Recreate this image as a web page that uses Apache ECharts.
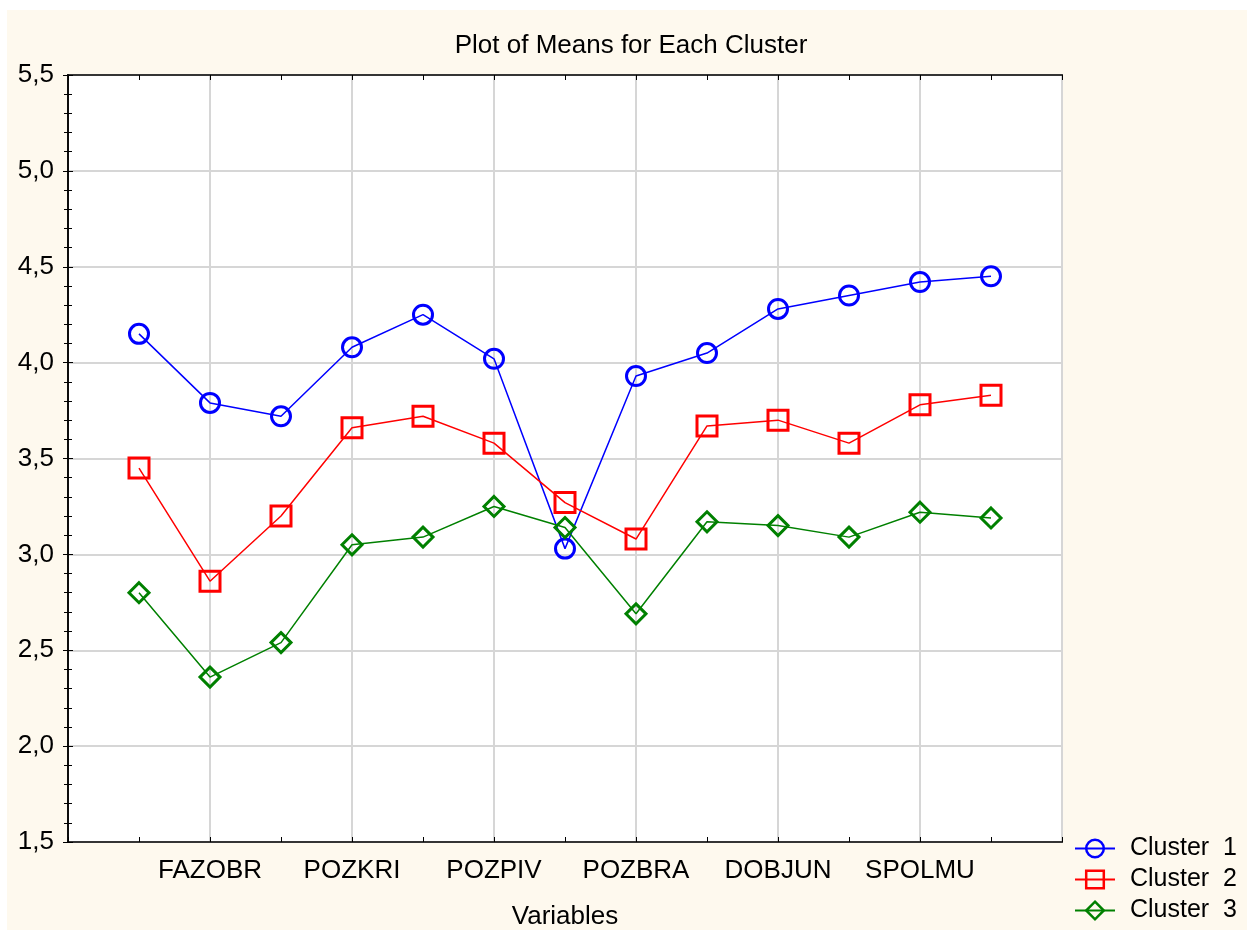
<!DOCTYPE html>
<html>
<head>
<meta charset="utf-8">
<script src="https://cdn.jsdelivr.net/npm/echarts@6/dist/echarts.min.js"></script>
<style>
  body { margin: 0; background: #fff; }
  #chart { position: absolute; left: 7px; top: 10px; width: 1240px; height: 920px; }
</style>
</head>
<body>
<div id="chart"></div>
<script>
// variables along the x axis (only every other one is labelled in the original)
const categories = ['V1', 'FAZOBR', 'V3', 'POZKRI', 'V5', 'POZPIV', 'V7', 'POZBRA', 'V9', 'DOBJUN', 'V11', 'SPOLMU', 'V13']
const shownLabels = ['FAZOBR', 'POZKRI', 'POZPIV', 'POZBRA', 'DOBJUN', 'SPOLMU']
const cluster1 = [4.15, 3.79, 3.72, 4.08, 4.25, 4.02, 3.03, 3.93, 4.05, 4.28, 4.35, 4.42, 4.45]
const cluster2 = [3.45, 2.86, 3.20, 3.66, 3.72, 3.58, 3.27, 3.08, 3.67, 3.70, 3.58, 3.78, 3.83]
const cluster3 = [2.80, 2.36, 2.54, 3.05, 3.09, 3.25, 3.14, 2.69, 3.17, 3.15, 3.09, 3.22, 3.19]
const legendNames = ['Cluster  1', 'Cluster  2', 'Cluster  3']

const font = 'Liberation Sans, Arial, sans-serif'
const myChart = echarts.init(document.getElementById('chart'))

const toPoints = vals => vals.map((v, i) => [i + 1, v])
const comma = v => v.toFixed(1).replace('.', ',')
const xLabel = v => {
  const name = categories[v - 1]
  return shownLabels.indexOf(name) >= 0 ? name : ''
}

const lineSeries = (name, vals, color, symbol, size) => ({
  name: name,
  type: 'line',
  data: toPoints(vals),
  symbol: symbol,
  symbolSize: size,
  showAllSymbol: true,
  color: color,
  lineStyle: { color: color, width: 1.5 },
  itemStyle: { color: 'transparent', borderColor: color, borderWidth: 3 },
  emphasis: { disabled: true },
  z: 3
})

const option = {
  backgroundColor: '#fef9ee',
  animation: false,
  title: {
    text: 'Plot of Means for Each Cluster',
    left: 619,
    top: 18,
    textAlign: 'center',
    textStyle: { fontFamily: font, fontSize: 26, fontWeight: 'normal', color: '#000' }
  },
  legend: {
    orient: 'vertical',
    left: 1067,
    top: 826,
    padding: 0,
    itemWidth: 40,
    itemHeight: 22,
    itemGap: 6,
    itemStyle: { borderWidth: 2.5 },
    data: legendNames,
    textStyle: { fontFamily: font, fontSize: 25, lineHeight: 25, color: '#000', padding: [0, 0, 0, 10] }
  },
  grid: {
    left: 61, top: 65, right: 185, bottom: 88,
    outerBoundsMode: 'none',
    show: true, backgroundColor: '#fff', borderColor: '#000', borderWidth: 1.5
  },
  xAxis: [{
    type: 'value',
    min: 0, max: 14, interval: 1,
    name: 'Variables',
    nameLocation: 'middle',
    nameGap: 62,
    nameTextStyle: { fontFamily: font, fontSize: 26, color: '#000' },
    axisLine: { lineStyle: { color: '#000', width: 1.5 } },
    axisTick: { inside: true, length: 5, lineStyle: { color: '#000' } },
    axisLabel: { margin: 16, fontFamily: font, fontSize: 26, color: '#000', formatter: xLabel },
    splitLine: { show: true, lineStyle: { color: ['#d6d6d6', 'rgba(0,0,0,0)'], width: 2 } }
  }, {
    type: 'value', position: 'top',
    min: 0, max: 14, interval: 1,
    axisLine: { show: true, lineStyle: { color: '#000', width: 1.5 } },
    axisTick: { inside: true, length: 5, lineStyle: { color: '#000' } },
    axisLabel: { show: false },
    splitLine: { show: false }
  }],
  yAxis: [{
    type: 'value',
    min: 1.5, max: 5.5, interval: 0.5,
    axisLine: { show: true, lineStyle: { color: '#000', width: 1.5 } },
    axisTick: { inside: true, length: 5, lineStyle: { color: '#000' } },
    minorTick: { show: true, splitNumber: 5, length: 4, lineStyle: { color: '#000' } },
    axisLabel: { margin: 14, fontFamily: font, fontSize: 26, color: '#000', formatter: comma },
    splitLine: { show: true, lineStyle: { color: '#d6d6d6', width: 2 } }
  }, {
    type: 'value', position: 'right',
    min: 1.5, max: 5.5, interval: 0.5,
    axisLine: { show: true, lineStyle: { color: '#000', width: 1.5 } },
    axisTick: { inside: true, length: 5, lineStyle: { color: '#000' } },
    minorTick: { show: true, splitNumber: 5, length: 4, lineStyle: { color: '#000' } },
    axisLabel: { show: false },
    splitLine: { show: false }
  }],
  series: [
    lineSeries(legendNames[0], cluster1, '#0000ff', 'circle', 19),
    lineSeries(legendNames[1], cluster2, '#ff0000', 'rect', 20),
    lineSeries(legendNames[2], cluster3, '#008000', 'diamond', 20)
  ]
}

myChart.setOption(option)
</script>
</body>
</html>
